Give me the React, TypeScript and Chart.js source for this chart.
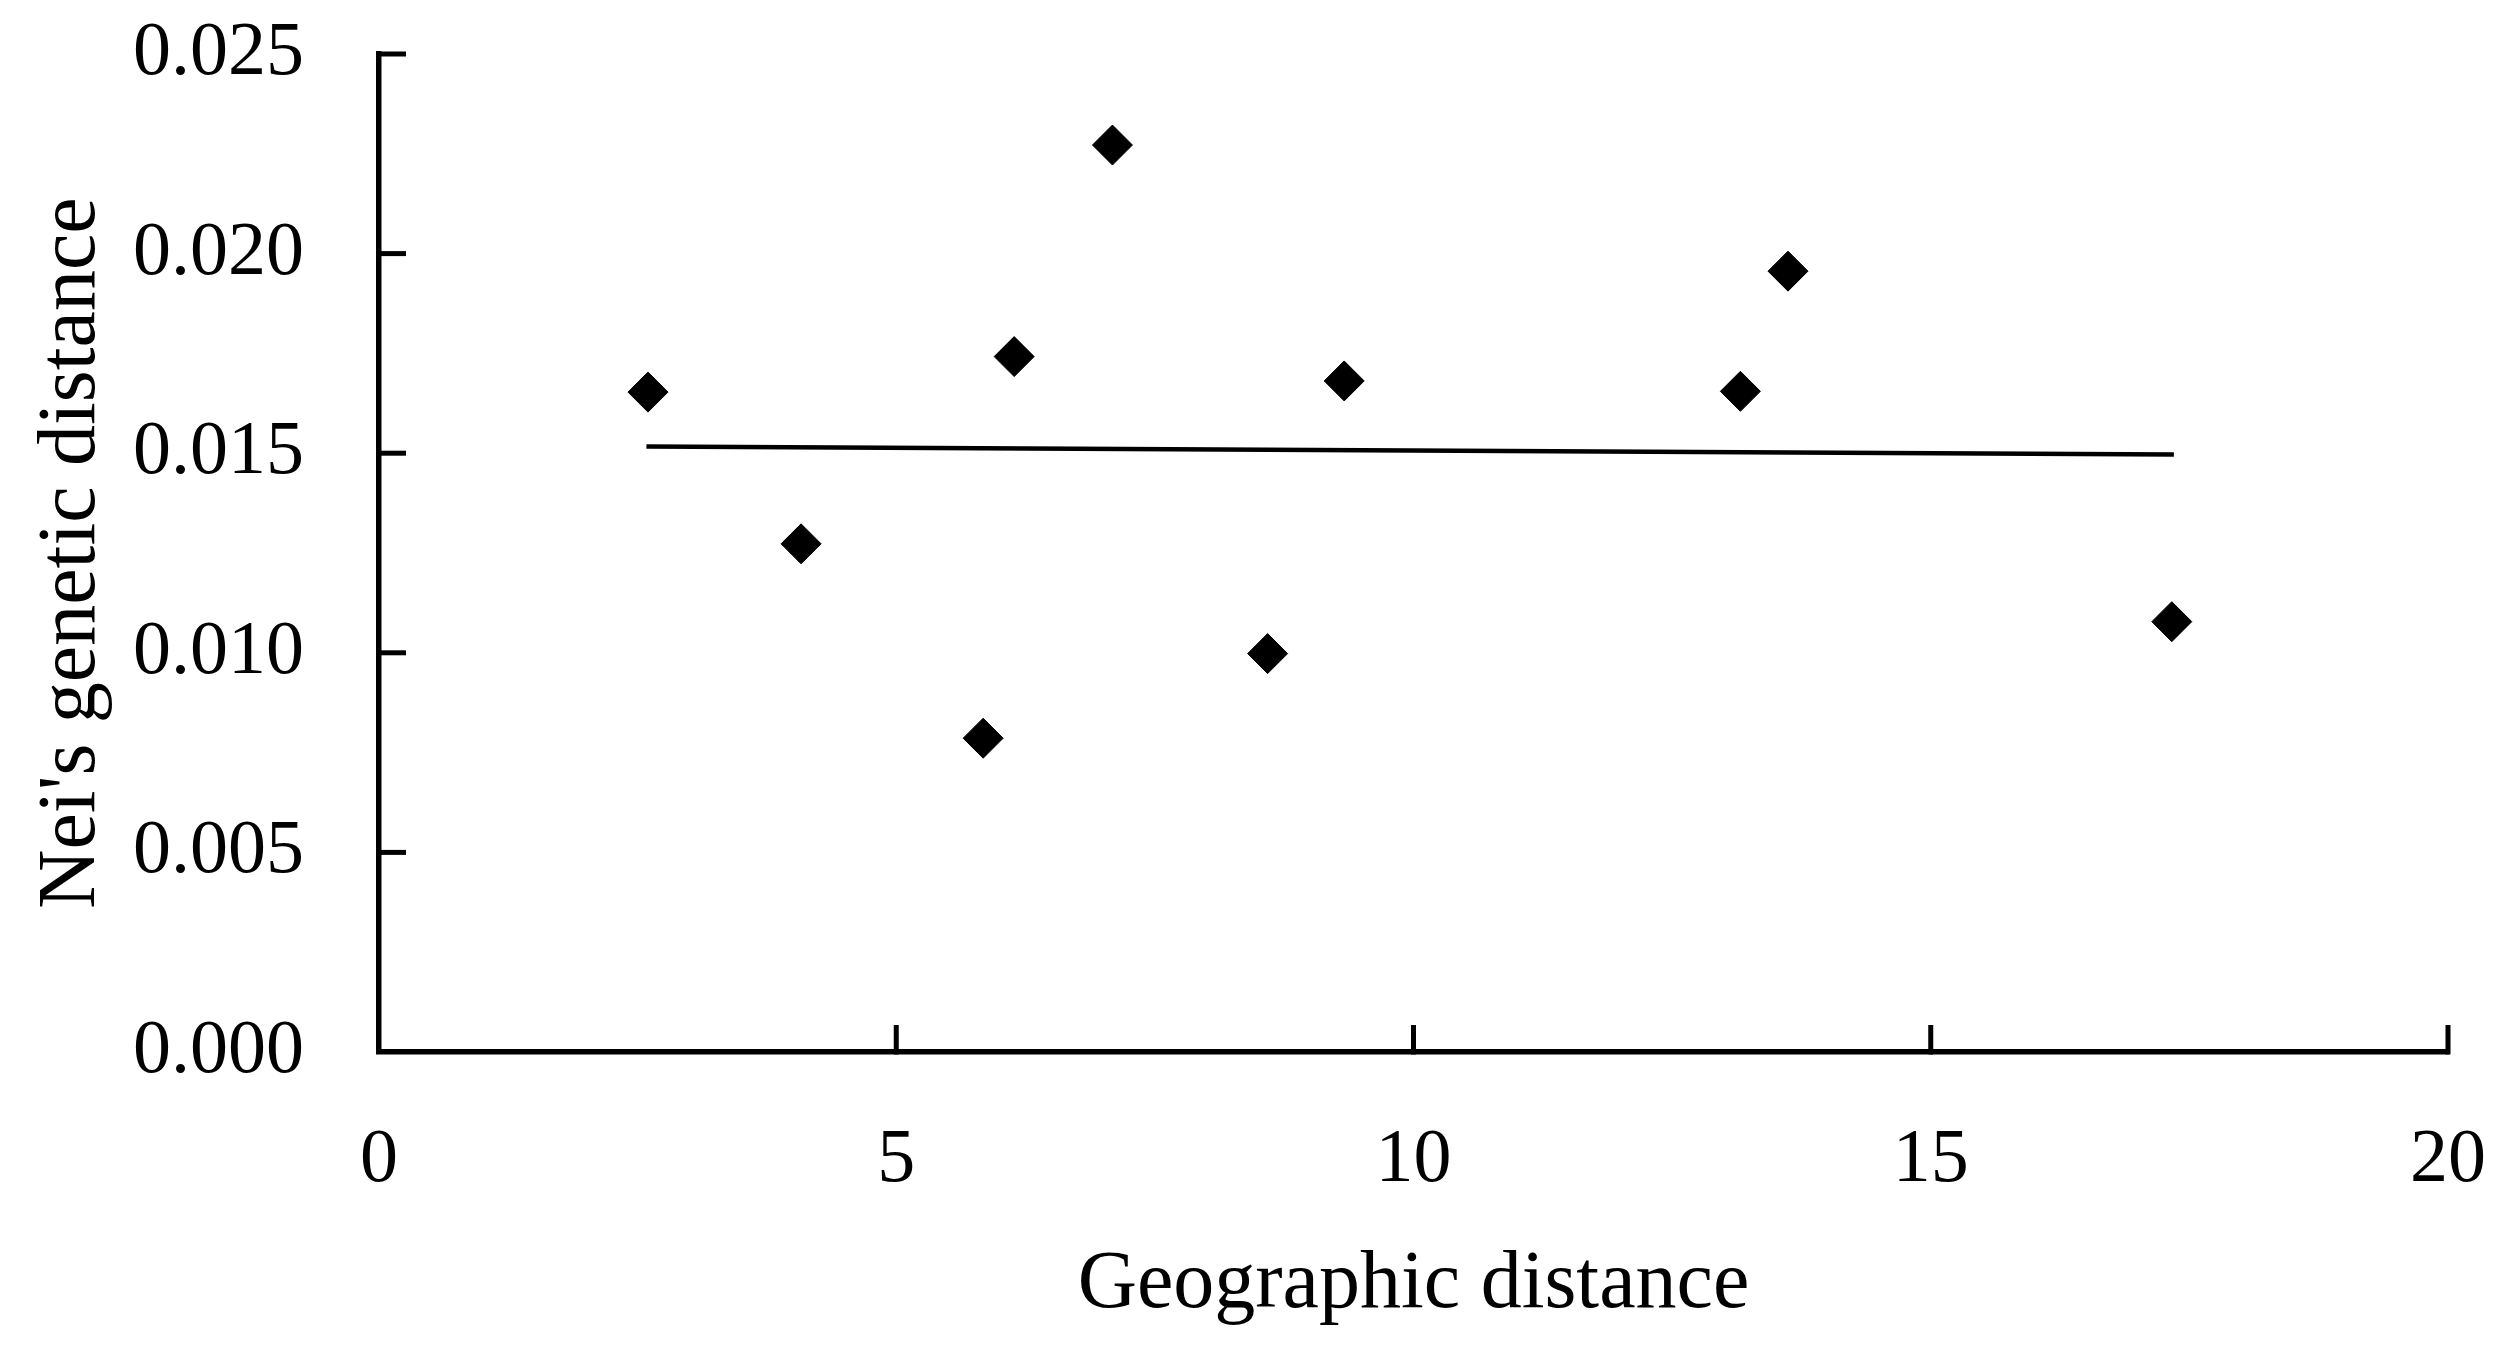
import React, { useEffect, useRef } from "react";
import { Chart, registerables } from "chart.js";

Chart.register(...registerables);

// Geographic distance (x) and Nei's genetic distance (y)
const geoDistance = [2.6, 4.08, 5.84, 6.14, 7.09, 8.59, 9.33, 13.16, 13.62, 17.33];
const neiDistance = [0.01653, 0.01273, 0.00786, 0.01742, 0.02272, 0.00998, 0.01681, 0.01655, 0.01956, 0.01078];

// Trend line end points
const trendX = [2.585, 17.35];
const trendY = [0.01517, 0.01497];

const xTickValues = [0, 5, 10, 15, 20];
const xTickLabels = ["0", "5", "10", "15", "20"];
const yTickValues = [0, 0.005, 0.01, 0.015, 0.02, 0.025];
const yTickLabels = ["0.000", "0.005", "0.010", "0.015", "0.020", "0.025"];

const FONT = "'Liberation Serif', 'Times New Roman', serif";

const insideTicks = {
  id: "insideTicks",
  afterDraw(chart: any) {
    const { ctx } = chart;
    const xs = chart.scales.x;
    const ys = chart.scales.y;
    const len = 27;
    ctx.save();
    ctx.strokeStyle = "#000";
    ctx.lineWidth = 5;
    ctx.lineCap = "butt";
    xTickValues.forEach((v) => {
      if (v === 0) return;
      const px = xs.getPixelForValue(v);
      ctx.beginPath();
      ctx.moveTo(px, ys.bottom + 2.5);
      ctx.lineTo(px, ys.bottom - len);
      ctx.stroke();
    });
    yTickValues.forEach((v) => {
      if (v === 0) return;
      const py = ys.getPixelForValue(v);
      ctx.beginPath();
      ctx.moveTo(xs.left - 2.5, py);
      ctx.lineTo(xs.left + len, py);
      ctx.stroke();
    });
    ctx.restore();
  },
};

export default function App() {
  const ref = useRef<HTMLCanvasElement | null>(null);

  useEffect(() => {
    if (!ref.current) return;
    const chart = new Chart(ref.current, {
      type: "scatter",
      data: {
        datasets: [
          {
            type: "scatter",
            label: "Populations",
            data: geoDistance.map((x, i) => ({ x, y: neiDistance[i] })),
            pointStyle: "rectRot",
            pointRadius: 20,
            pointHoverRadius: 20,
            backgroundColor: "#000",
            borderColor: "#000",
            borderWidth: 1,
          },
          {
            type: "line",
            label: "Trend",
            data: trendX.map((x, i) => ({ x, y: trendY[i] })),
            borderColor: "#000",
            borderWidth: 4.5,
            pointRadius: 0,
            fill: false,
            tension: 0,
          } as any,
        ],
      },
      options: {
        animation: false,
        responsive: false,
        devicePixelRatio: 1,
        layout: { padding: { left: 0, right: 62, top: 54, bottom: 0 } },
        plugins: {
          legend: { display: false },
          tooltip: { enabled: false },
        },
        scales: {
          x: {
            type: "linear",
            min: 0,
            max: 20,
            afterFit: (s: any) => {
              s.height = 301;
              s.paddingLeft = 0;
              s.paddingRight = 0;
            },
            afterBuildTicks: (s: any) => {
              s.ticks = xTickValues.map((v) => ({ value: v }));
            },
            ticks: {
              padding: 71,
              color: "#000",
              font: { family: FONT, size: 76, lineHeight: 1 },
              callback: (v: any) => {
                const i = xTickValues.indexOf(Number(v));
                return i >= 0 ? xTickLabels[i] : "";
              },
            },
            grid: { display: false, drawTicks: false },
            border: { display: true, color: "#000", width: 5.5 },
            title: {
              display: true,
              text: "Geographic distance",
              color: "#000",
              font: { family: FONT, size: 82, lineHeight: 1 },
              padding: { top: 0, bottom: 27 },
            },
          },
          y: {
            type: "linear",
            min: 0,
            max: 0.025,
            afterFit: (s: any) => {
              s.width = 379;
              s.paddingTop = 0;
              s.paddingBottom = 0;
            },
            afterBuildTicks: (s: any) => {
              s.ticks = yTickValues.map((v) => ({ value: v }));
            },
            ticks: {
              padding: 75,
              color: "#000",
              font: { family: FONT, size: 76, lineHeight: 1 },
              callback: (v: any) => {
                const i = yTickValues.findIndex((t) => Math.abs(t - Number(v)) < 1e-9);
                return i >= 0 ? yTickLabels[i] : "";
              },
            },
            grid: { display: false, drawTicks: false },
            border: { display: true, color: "#000", width: 5.5 },
            title: {
              display: true,
              text: "Nei's genetic distance",
              color: "#000",
              font: { family: FONT, size: 82, lineHeight: 1 },
              padding: { top: 31, bottom: 0 },
            },
          },
        },
      },
      plugins: [insideTicks],
    });
    return () => chart.destroy();
  }, []);

  return (
    <div style={{ position: "fixed", left: 0, top: 0, width: 2510, height: 1353, background: "#fff" }}>
      <canvas ref={ref} width={2510} height={1353} style={{ display: "block" }} />
    </div>
  );
}
